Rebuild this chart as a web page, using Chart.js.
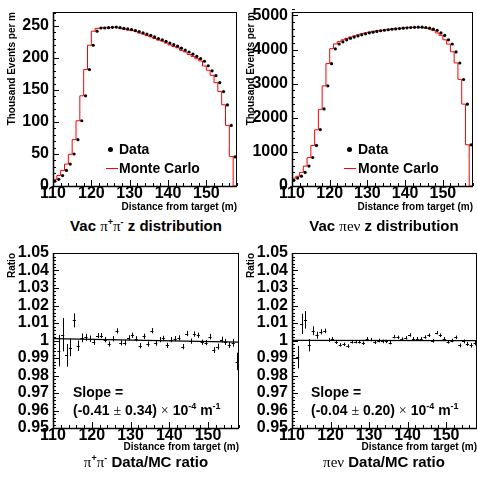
<!DOCTYPE html>
<html>
<head>
<meta charset="UTF-8">
<title>Vacuum z distributions and Data/MC ratios</title>
<script src="https://cdn.jsdelivr.net/npm/chart.js"></script>
<style>
    body { margin: 0; background: #fff; }
    #wrap { position: relative; width: 477px; height: 482px; overflow: hidden;
            font-family: "Liberation Sans", Arial, sans-serif; font-weight: bold; color: #000; }
    canvas { position: absolute; }
    .txt { position: absolute; white-space: nowrap; font-size: 14px; line-height: 16px; }
    .cap { transform: translateX(-50%); font-size: 15px; }
    .sym { font-family: "Liberation Serif", serif; font-weight: normal; }
    sup { font-size: 9px; line-height: 0; vertical-align: 6px; }
    .dot { position: absolute; width: 5px; height: 5px; border-radius: 50%; background: #000; }
    .mcline { position: absolute; width: 12px; height: 1px; background: #f00; }
</style>
</head>
<body>
<div id="wrap">
    <canvas id="c1" width="241" height="215" style="left:0;top:0"></canvas>
    <canvas id="c2" width="238" height="215" style="left:239px;top:0"></canvas>
    <canvas id="c3" width="241" height="214" style="left:0;top:241px"></canvas>
    <canvas id="c4" width="238" height="214" style="left:239px;top:241px"></canvas>

    <!-- legends -->
    <div class="dot" style="left:108px;top:147px"></div>
    <div class="txt" style="left:119px;top:141px">Data</div>
    <div class="mcline" style="left:106px;top:168px"></div>
    <div class="txt" style="left:119px;top:160px">Monte Carlo</div>

    <div class="dot" style="left:347px;top:147px"></div>
    <div class="txt" style="left:358px;top:141px">Data</div>
    <div class="mcline" style="left:344px;top:168px"></div>
    <div class="txt" style="left:358px;top:160px">Monte Carlo</div>

    <!-- slopes -->
    <div class="txt" style="left:73px;top:384px">Slope =</div>
    <div class="txt" style="left:73px;top:402px">(-0.41 <span class="sym">&plusmn;</span> 0.34) <span class="sym">&times;</span> 10<sup>-4</sup> m<sup>-1</sup></div>
    <div class="txt" style="left:311px;top:384px">Slope =</div>
    <div class="txt" style="left:311px;top:402px">(-0.04 <span class="sym">&plusmn;</span> 0.20) <span class="sym">&times;</span> 10<sup>-4</sup> m<sup>-1</sup></div>

    <!-- captions -->
    <div class="txt cap" style="left:146px;top:218px">Vac <span class="sym">&pi;</span><sup>+</sup><span class="sym">&pi;</span><sup>-</sup> z distribution</div>
    <div class="txt cap" style="left:384px;top:218px">Vac <span class="sym">&pi;e&nu;</span> z distribution</div>
    <div class="txt cap" style="left:146px;top:454px"><span class="sym">&pi;</span><sup>+</sup><span class="sym">&pi;</span><sup>-</sup> Data/MC ratio</div>
    <div class="txt cap" style="left:384px;top:454px"><span class="sym">&pi;e&nu;</span> Data/MC ratio</div>
</div>

<script>
    // bin centres (m) and bin edges
    const binCenters = [110.5, 111.5, 112.5, 113.5, 114.5, 115.5, 116.5, 117.5, 118.5, 119.5,
                        120.5, 121.5, 122.5, 123.5, 124.5, 125.5, 126.5, 127.5, 128.5, 129.5,
                        130.5, 131.5, 132.5, 133.5, 134.5, 135.5, 136.5, 137.5, 138.5, 139.5,
                        140.5, 141.5, 142.5, 143.5, 144.5, 145.5, 146.5, 147.5, 148.5, 149.5,
                        150.5, 151.5, 152.5, 153.5, 154.5, 155.5, 156.5, 157.5];
    const binEdges = [110, 111, 112, 113, 114, 115, 116, 117, 118, 119,
                      120, 121, 122, 123, 124, 125, 126, 127, 128, 129,
                      130, 131, 132, 133, 134, 135, 136, 137, 138, 139,
                      140, 141, 142, 143, 144, 145, 146, 147, 148, 149,
                      150, 151, 152, 153, 154, 155, 156, 157, 158];

    // tick labels
    const xTicks = [110, 120, 130, 140, 150];
    const pipiTicks = [0, 50, 100, 150, 200, 250];
    const kenuTicks = [0, 1000, 2000, 3000, 4000, 5000];
    const ratioTicks = [0.95, 0.96, 0.97, 0.98, 0.99, 1, 1.01, 1.02, 1.03, 1.04, 1.05];

    // pi+pi- z distribution (thousand events per m)
    const pipiData = [7.4, 10.4, 16.3, 24.3, 34.2, 50, 72.4, 102, 141, 182,
                      220, 242, 247, 247, 247.5, 248, 248.5, 247.5, 246.5, 245.5,
                      244.5, 243, 241.5, 239.5, 237.5, 235.5, 233, 230.5, 228.5, 226,
                      223.5, 221, 218.5, 215.5, 212.5, 209.5, 206, 202.5, 199, 195,
                      188, 180, 172.4, 161.5, 147.6, 126.8, 94.7, 45.6];
    const pipiMC   = [7.4, 10.4, 16.3, 24.4, 34.3, 49.5, 72.6, 102, 141, 182,
                      220, 242, 246.5, 247, 248, 247.5, 248, 248, 246.5, 245,
                      244, 243, 242, 239, 237.5, 235, 233, 230.5, 228, 226.5,
                      223.5, 220.5, 218, 216, 212, 209.5, 205.5, 202.5, 199, 195.5,
                      187.5, 181, 173, 161.5, 147.7, 127, 94.8, 46];

    // pi e nu z distribution (thousand events per m)
    const kenuData = [167, 232, 288, 399, 585, 836, 1190, 1653, 2258, 2935,
                      3585, 4022, 4162, 4227, 4283, 4329, 4366, 4400, 4430, 4460,
                      4490, 4510, 4530, 4550, 4565, 4580, 4595, 4605, 4615, 4625,
                      4635, 4645, 4650, 4654, 4654, 4645, 4626, 4599, 4562, 4487,
                      4413, 4283, 4162, 3930, 3605, 3122, 2397, 1207];
    const kenuMC   = [168, 230, 285, 399, 583, 832, 1187, 1645, 2246, 2935,
                      3588, 4026, 4164, 4230, 4286, 4330, 4367, 4398, 4430, 4462,
                      4488, 4510, 4532, 4549, 4565, 4576, 4594, 4604, 4614, 4622,
                      4633, 4645, 4648, 4650, 4652, 4644, 4624, 4602, 4558, 4487,
                      4415, 4285, 4159, 3935, 3608, 3126, 2400, 1209];

    // Data/MC ratios, bins 111.5 .. 157.5
    const ratioCenters = binCenters.slice(1);
    const pipiRatio = [0.9942, 1.0033, 0.9915, 0.9960, 1.0115, 0.9970, 1.0015, 1.0018, 1.0010, 0.9990,
                       1.0028, 1.0028, 1.0005, 0.9980, 1.0010, 1.0055, 0.9987, 0.9987, 1.0015, 1.0030,
                       1.0010, 0.9970, 1.0024, 0.9980, 1.0056, 0.9985, 1.0005, 1.0012, 0.9972, 1.0005,
                       1.0010, 1.0015, 0.9965, 1.0040, 0.9996, 1.0037, 1.0030, 0.9990, 0.9988, 1.0022,
                       0.9945, 0.9965, 1.0005, 0.9992, 0.9975, 0.9987, 0.9880];
    const pipiErr   = [0.009, 0.0095, 0.0065, 0.005, 0.004, 0.003, 0.0025, 0.002, 0.0018, 0.0015,
                       0.0015, 0.0015, 0.0015, 0.0015, 0.0015, 0.0015, 0.0015, 0.0015, 0.0015, 0.0015,
                       0.0015, 0.0015, 0.0015, 0.0015, 0.0015, 0.0015, 0.0015, 0.0015, 0.0015, 0.0015,
                       0.0015, 0.0015, 0.0015, 0.0015, 0.0015, 0.0015, 0.0015, 0.0015, 0.0015, 0.0016,
                       0.0017, 0.0017, 0.0017, 0.0017, 0.0018, 0.0022, 0.005];
    const kenuRatio = [0.9905, 1.0095, 1.0118, 0.9973, 1.0056, 1.0030, 1.0050, 1.0055, 1.0003, 1.0010,
                       0.9990, 0.9975, 0.9978, 0.9968, 0.9993, 0.9993, 0.9993, 0.9985, 1.0010, 1.0005,
                       0.9990, 1.0000, 0.9995, 0.9995, 0.9988, 1.0022, 1.0018, 1.0008, 1.0015, 1.0032,
                       1.0010, 1.0010, 1.0010, 1.0020, 1.0030, 0.9998, 1.0045, 1.0030, 1.0010, 0.9992,
                       1.0000, 1.0018, 0.9972, 0.9995, 0.9980, 0.9972, 0.9987];
    const kenuErr   = [0.0064, 0.0058, 0.005, 0.0035, 0.0025, 0.002, 0.0015, 0.0013, 0.0011, 0.001,
                       0.001, 0.001, 0.001, 0.001, 0.001, 0.001, 0.001, 0.001, 0.001, 0.001,
                       0.001, 0.001, 0.001, 0.001, 0.001, 0.001, 0.001, 0.001, 0.001, 0.001,
                       0.001, 0.001, 0.001, 0.001, 0.001, 0.001, 0.001, 0.001, 0.001, 0.001,
                       0.001, 0.001, 0.0011, 0.0011, 0.0012, 0.0013, 0.0015];

    // linear fits to the ratios, evaluated at the axis ends
    const fitX = [110, 158];
    const pipiFit = [1.0011, 0.9991];
    const kenuFit = [1.0001, 0.9999];

    const BOLD = '"Liberation Sans", Arial, sans-serif';

    const pts = (xs, ys) => ys.map((v, i) => ({x: xs[i], y: v}));

    // ROOT style frame, inward ticks and error bars
    const rootStyle = {
        id: 'rootStyle',
        afterDatasetsDraw(chart) {
            const {ctx, scales: {x, y}} = chart;
            chart.data.datasets.forEach(ds => {
                if (!ds.errY) return;
                ctx.save();
                ctx.strokeStyle = '#000';
                ctx.lineWidth = 1;
                ds.data.forEach((p, i) => {
                    const px = Math.round(x.getPixelForValue(p.x)) + 0.5;
                    const py = Math.round(y.getPixelForValue(p.y)) + 0.5;
                    ctx.beginPath();
                    ctx.moveTo(px, y.getPixelForValue(p.y - ds.errY[i]));
                    ctx.lineTo(px, y.getPixelForValue(p.y + ds.errY[i]));
                    ctx.moveTo(x.getPixelForValue(p.x - ds.errX), py);
                    ctx.lineTo(x.getPixelForValue(p.x + ds.errX), py);
                    ctx.stroke();
                });
                ctx.restore();
            });
        },
        afterDraw(chart, args, o) {
            const {ctx, chartArea: a, scales: {x, y}} = chart;
            ctx.save();
            ctx.strokeStyle = '#000';
            ctx.lineWidth = 1;
            ctx.beginPath();
            // x ticks (bottom axis, pointing up)
            const nx = Math.round((x.max - x.min) / o.xMinor);
            for (let k = 0; k <= nx; k++) {
                const v = x.min + k * o.xMinor;
                const px = Math.round(x.getPixelForValue(v)) + 0.5;
                const major = k % 5 === 0;
                ctx.moveTo(px, a.bottom);
                ctx.lineTo(px, a.bottom - (major ? 6 : 3));
            }
            // y ticks (left axis, pointing right)
            const ny = Math.round((y.max - y.min) / o.yMinor);
            for (let k = 0; k <= ny; k++) {
                const v = y.min + k * o.yMinor;
                const py = Math.round(y.getPixelForValue(v)) + 0.5;
                const major = k % o.yPerMajor === 0;
                ctx.moveTo(a.left, py);
                ctx.lineTo(a.left + (major ? 6 : 3), py);
            }
            ctx.stroke();
            ctx.strokeRect(Math.round(a.left) + 0.5, Math.round(a.top) + 0.5,
                           Math.round(a.right - a.left) - 1, Math.round(a.bottom - a.top));
            ctx.lineWidth = 1.5;
            ctx.beginPath();
            ctx.moveTo(a.left + 0.5, a.top);
            ctx.lineTo(a.left + 0.5, a.bottom + 0.5);
            ctx.lineTo(a.right, a.bottom + 0.5);
            ctx.stroke();
            ctx.restore();
        }
    };

    function makeOptions(cfg) {
        return {
            responsive: false,
            animation: false,
            layout: {padding: {left: 0, right: cfg.padRight, top: 3, bottom: 0}},
            plugins: {
                legend: {display: false},
                tooltip: {enabled: false},
                rootStyle: {xMinor: 2, yMinor: cfg.yMinor, yPerMajor: cfg.yPerMajor}
            },
            scales: {
                x: {
                    type: 'linear',
                    min: 110,
                    max: 158,
                    afterFit: s => { s.height = cfg.xHeight; },
                    afterBuildTicks: s => { s.ticks = xTicks.map(v => ({value: v})); },
                    grid: {display: false, drawTicks: false},
                    border: {display: false},
                    ticks: {autoSkip: false, maxRotation: 0, padding: 0, color: '#000',
                            font: {family: BOLD, weight: 'bold', size: 16, lineHeight: 1}},
                    title: {display: true, text: 'Distance from target (m)', align: 'end', color: '#000',
                            padding: {top: 0, bottom: 2},
                            font: {family: BOLD, weight: 'bold', size: 10}}
                },
                y: {
                    min: cfg.yMin,
                    max: cfg.yMax,
                    afterFit: s => { s.width = 53; },
                    afterBuildTicks: s => { s.ticks = cfg.yTicks.map(v => ({value: v})); },
                    grid: {display: false, drawTicks: false},
                    border: {display: false},
                    ticks: {autoSkip: false, padding: 4, color: '#000',
                            callback: v => String(+v.toFixed(2)),
                            font: {family: BOLD, weight: 'bold', size: 16, lineHeight: 1}},
                    title: {display: true, text: cfg.yTitle, align: 'end', color: '#000',
                            padding: {top: 6, bottom: 0},
                            font: {family: BOLD, weight: 'bold', size: 10}}
                }
            }
        };
    }

    function distChart(id, data, mc, cfg) {
        return new Chart(document.getElementById(id), {
            type: 'line',
            data: {
                datasets: [{
                    data: pts(binCenters, data),
                    showLine: false,
                    pointRadius: 1.6,
                    pointBackgroundColor: '#000',
                    pointBorderWidth: 0,
                    order: 0
                }, {
                    data: pts(binEdges, mc.concat([0])),
                    stepped: 'after',
                    borderColor: '#ff0000',
                    borderWidth: 1,
                    pointRadius: 0,
                    fill: false,
                    order: 1
                }]
            },
            options: makeOptions(cfg),
            plugins: [rootStyle]
        });
    }

    function ratioChart(id, ratio, err, fit, cfg) {
        return new Chart(document.getElementById(id), {
            type: 'line',
            data: {
                datasets: [{
                    data: pts(ratioCenters, ratio),
                    errY: err,
                    errX: 0.4,
                    showLine: false,
                    pointRadius: 0,
                    order: 0
                }, {
                    data: pts(fitX, fit),
                    borderColor: '#000',
                    borderWidth: 1.2,
                    pointRadius: 0,
                    order: 1
                }]
            },
            options: makeOptions(cfg),
            plugins: [rootStyle]
        });
    }

    distChart('c1', pipiData, pipiMC, {yMin: 0, yMax: 272, yTicks: pipiTicks, yMinor: 10, yPerMajor: 5,
        yTitle: 'Thousand Events per m', padRight: 2, xHeight: 29});
    distChart('c2', kenuData, kenuMC, {yMin: 0, yMax: 5100, yTicks: kenuTicks, yMinor: 200, yPerMajor: 5,
        yTitle: 'Thousand Events per m', padRight: 0, xHeight: 29});
    ratioChart('c3', pipiRatio, pipiErr, pipiFit, {yMin: 0.95, yMax: 1.05, yTicks: ratioTicks, yMinor: 0.002, yPerMajor: 5,
        yTitle: 'Ratio', padRight: 2, xHeight: 27});
    ratioChart('c4', kenuRatio, kenuErr, kenuFit, {yMin: 0.95, yMax: 1.05, yTicks: ratioTicks, yMinor: 0.002, yPerMajor: 5,
        yTitle: 'Ratio', padRight: 0, xHeight: 27});
</script>
</body>
</html>
